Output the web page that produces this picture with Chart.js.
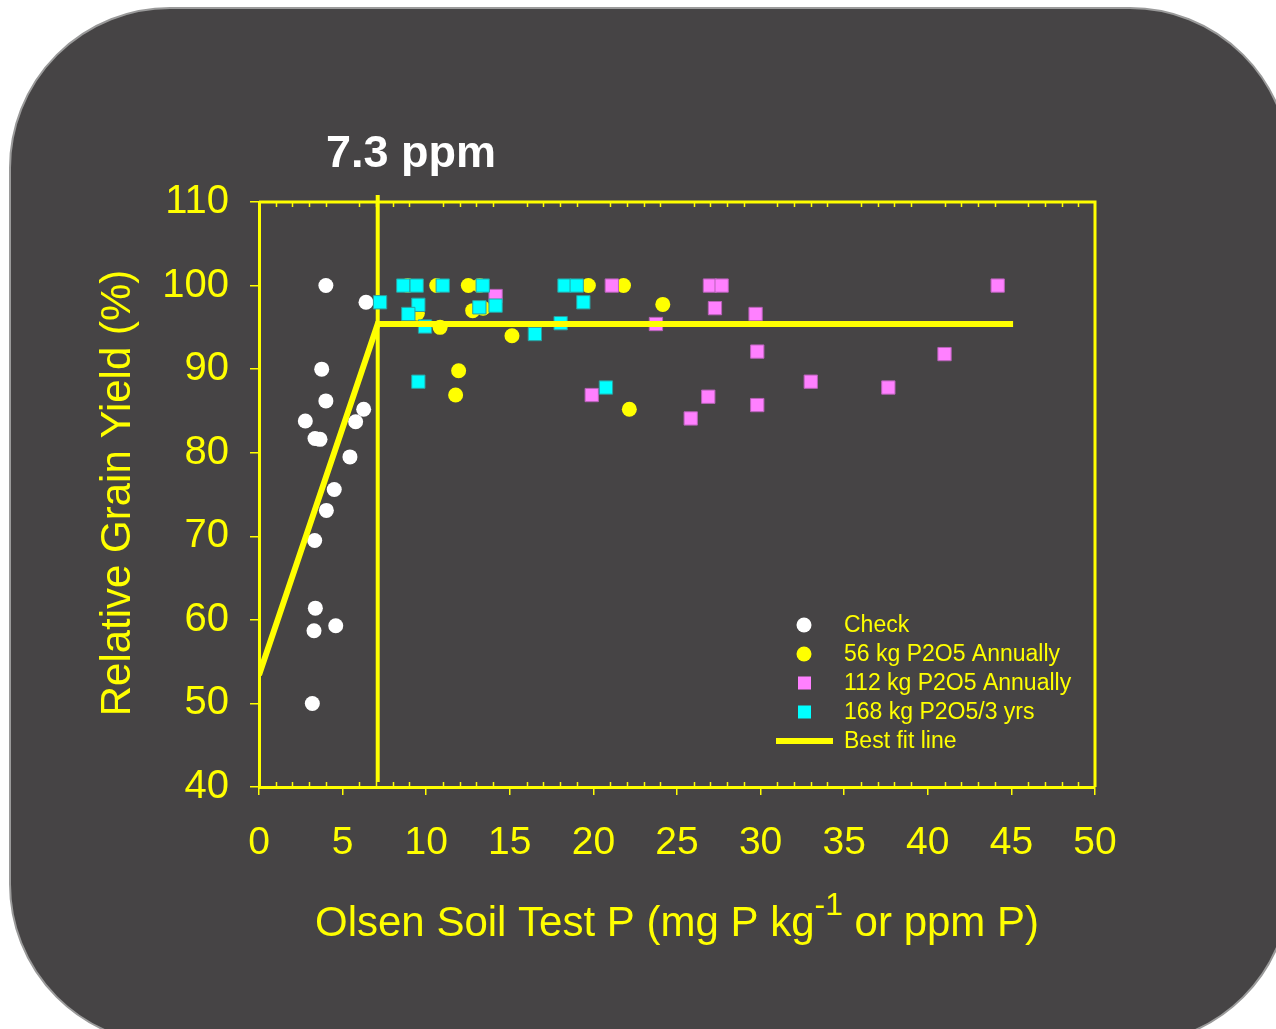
<!DOCTYPE html>
<html>
<head>
<meta charset="utf-8">
<script src="https://cdn.jsdelivr.net/npm/chart.js@4.4.0/dist/chart.umd.min.js"></script>
<style>
  html, body { margin: 0; padding: 0; background: #fff; }
  canvas { display: block; }
</style>
</head>
<body>
<canvas id="soilChart" width="1276" height="1029"></canvas>
<script>
// Dados: P Olsen (ppm) x rendimento relativo (%)
const seriesLabels = ['Check', '56 kg P2O5 Annually', '112 kg P2O5 Annually', '168 kg P2O5/3 yrs', 'Best fit line'];

const checkX = [4.0, 6.4, 3.75, 4.0, 2.77, 3.35, 3.65, 6.26, 5.78, 5.44, 4.5, 4.03, 3.33, 3.37, 3.29, 4.59, 3.19];
const checkY = [100, 98.0, 90.0, 86.2, 83.8, 81.7, 81.6, 85.2, 83.7, 79.5, 75.6, 73.1, 69.5, 61.4, 58.7, 59.3, 50.0];

const p56X = [8.9, 10.63, 12.52, 13.2, 9.47, 12.78, 13.4, 10.83, 15.13, 11.94, 11.76, 19.7, 21.8, 24.15, 22.15];
const p56Y = [100, 100, 100, 100, 96.7, 97.0, 97.3, 95.0, 94.0, 89.8, 86.9, 100, 100, 97.75, 85.2];

const p112X = [14.15, 19.9, 21.1, 23.74, 25.82, 26.87, 26.97, 27.67, 27.27, 29.7, 29.8, 29.8, 33.0, 37.64, 41.0, 44.18];
const p112Y = [98.75, 86.9, 100, 95.4, 84.1, 86.7, 100, 100, 97.3, 96.6, 92.1, 85.7, 88.5, 87.8, 91.8, 100];

const p168X = [7.24, 8.63, 9.43, 9.53, 8.93, 9.93, 9.53, 10.99, 13.38, 13.18, 14.15, 16.5, 18.04, 18.27, 19.0, 19.4, 20.75];
const p168Y = [98.0, 100, 100, 97.7, 96.6, 95.1, 88.5, 100, 100, 97.4, 97.6, 94.2, 95.5, 100, 100, 98.0, 87.8];

// linha de ajuste (linear-platô) e nível crítico
const fitX = [0, 7.1, 45.1];
const fitY = [53.4, 95.4, 95.4];
const criticalX = [7.1, 7.1];
const criticalY = [40.6, 110.85];

const xTicks = [0, 50, 5];   // min, max, passo
const yTicks = [40, 110, 10];

const YELLOW = '#ffff00';
const FONT = '"Liberation Sans", Arial, sans-serif';

const pts = (xs, ys) => xs.map((x, i) => ({ x: x, y: ys[i] }));

// fundo arredondado cinza escuro
const fundo = {
  id: 'fundo',
  beforeDraw(chart) {
    const c = chart.ctx;
    c.save();
    c.fillStyle = '#ffffff';
    c.fillRect(0, 0, chart.width, chart.height);
    c.beginPath();
    c.roundRect(10, 8, 1280, 1036, 160);
    c.fillStyle = '#464445';
    c.fill();
    c.lineWidth = 2;
    c.strokeStyle = '#9a9a9a';
    c.stroke();
    c.restore();
  }
};

// moldura, marcas menores, títulos e legenda
const extras = {
  id: 'extras',
  afterDraw(chart) {
    const c = chart.ctx;
    const a = chart.chartArea;
    const xs = chart.scales.x;
    c.save();
    c.strokeStyle = YELLOW;
    c.lineWidth = 3;
    c.beginPath();
    c.moveTo(a.left, a.top);
    c.lineTo(a.right, a.top);
    c.lineTo(a.right, a.bottom);
    c.stroke();

    c.lineWidth = 1.5;
    c.beginPath();
    for (let v = xTicks[0] + 1; v < xTicks[1]; v++) {
      if (v % xTicks[2] === 0) continue;
      const px = Math.round(xs.getPixelForValue(v)) + 0.5;
      c.moveTo(px, a.bottom);
      c.lineTo(px, a.bottom - 5);
      c.moveTo(px, a.top);
      c.lineTo(px, a.top + 5);
    }
    c.stroke();

    // título "7.3 ppm"
    c.fillStyle = '#ffffff';
    c.font = 'bold 45px ' + FONT;
    c.textAlign = 'center';
    c.textBaseline = 'alphabetic';
    c.fillText('7.3 ppm', 411, 167);

    // título do eixo Y
    c.fillStyle = YELLOW;
    c.save();
    c.translate(118, 493);
    c.rotate(-Math.PI / 2);
    c.font = '42px ' + FONT;
    c.textBaseline = 'middle';
    c.fillText('Relative Grain Yield (%)', 0, 0);
    c.restore();

    // título do eixo X com expoente
    const partA = 'Olsen Soil Test P (mg P kg';
    const sup = '-1';
    const partB = ' or ppm P)';
    c.font = '42px ' + FONT;
    const wA = c.measureText(partA).width;
    const wB = c.measureText(partB).width;
    c.font = '32px ' + FONT;
    const wS = c.measureText(sup).width;
    let x0 = 677 - (wA + wS + wB) / 2;
    c.textAlign = 'left';
    c.font = '42px ' + FONT;
    c.fillText(partA, x0, 936);
    c.font = '32px ' + FONT;
    c.fillText(sup, x0 + wA, 915);
    c.font = '42px ' + FONT;
    c.fillText(partB, x0 + wA + wS, 936);

    // legenda
    c.font = '23px ' + FONT;
    c.textBaseline = 'middle';
    const rows = [625, 654, 683, 712, 741];
    chart.data.datasets.slice(0, 5).forEach((ds, i) => {
      const y = rows[i];
      if (ds.showLine) {
        c.strokeStyle = ds.borderColor;
        c.lineWidth = 6;
        c.beginPath();
        c.moveTo(776, y);
        c.lineTo(833, y);
        c.stroke();
      } else if (ds.pointStyle === 'rect') {
        c.fillStyle = ds.backgroundColor;
        c.fillRect(798, y - 6.5, 13, 13);
      } else {
        c.fillStyle = ds.backgroundColor;
        c.beginPath();
        c.arc(804, y, 7.5, 0, Math.PI * 2);
        c.fill();
      }
      c.fillStyle = YELLOW;
      c.fillText(ds.label, 844, y + 1);
    });
    c.restore();
  }
};

const ctx = document.getElementById('soilChart').getContext('2d');

const soilChart = new Chart(ctx, {
  type: 'scatter',
  data: {
    datasets: [
      { label: seriesLabels[0], data: pts(checkX, checkY), pointStyle: 'circle', pointRadius: 7.5,
        backgroundColor: '#ffffff', borderWidth: 0, order: 5 },
      { label: seriesLabels[1], data: pts(p56X, p56Y), pointStyle: 'circle', pointRadius: 7.5,
        backgroundColor: YELLOW, borderWidth: 0, order: 4 },
      { label: seriesLabels[2], data: pts(p112X, p112Y), pointStyle: 'rect', pointRadius: 9.4,
        backgroundColor: '#ff80ff', borderColor: '#b862b8', borderWidth: 1, order: 3 },
      { label: seriesLabels[3], data: pts(p168X, p168Y), pointStyle: 'rect', pointRadius: 9.4,
        backgroundColor: '#00ffff', borderColor: '#2aa0a0', borderWidth: 1, order: 2 },
      { label: seriesLabels[4], data: pts(fitX, fitY), showLine: true, borderColor: YELLOW,
        borderWidth: 6, pointRadius: 0, fill: false, order: 0 },
      { label: 'critical', data: pts(criticalX, criticalY), showLine: true, borderColor: YELLOW,
        borderWidth: 4, pointRadius: 0, fill: false, clip: false, order: 6 }
    ]
  },
  options: {
    responsive: false,
    animation: false,
    events: [],
    layout: { padding: { top: 202, right: 181, bottom: 0, left: 0 } },
    plugins: {
      legend: { display: false },
      tooltip: { enabled: false },
      title: { display: false }
    },
    scales: {
      x: {
        type: 'linear',
        min: xTicks[0], max: xTicks[1],
        ticks: { stepSize: xTicks[2], color: YELLOW, font: { family: FONT, size: 39 }, padding: 25, maxRotation: 0 },
        grid: { display: true, drawOnChartArea: false, drawTicks: true, tickLength: 8, color: YELLOW, lineWidth: 1.5 },
        border: { display: true, color: YELLOW, width: 3 },
        afterFit: s => { s.height = 242; }
      },
      y: {
        type: 'linear',
        min: yTicks[0], max: yTicks[1],
        ticks: { stepSize: yTicks[2], color: YELLOW, font: { family: FONT, size: 40 }, padding: 21 },
        grid: { display: true, drawOnChartArea: false, drawTicks: true, tickLength: 9, color: YELLOW, lineWidth: 1.5 },
        border: { display: true, color: YELLOW, width: 3 },
        afterFit: s => { s.width = 259; }
      }
    }
  },
  plugins: [fundo, extras]
});
</script>
</body>
</html>
